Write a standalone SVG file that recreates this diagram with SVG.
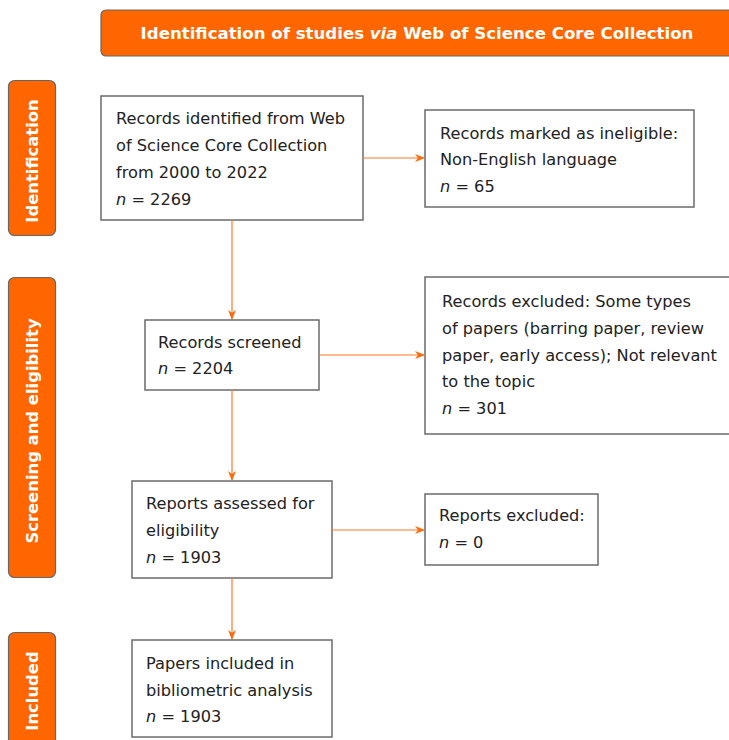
<svg xmlns="http://www.w3.org/2000/svg" width="729" height="740" viewBox="0 0 729 740">
<defs>
<marker id="ah" markerWidth="10" markerHeight="8" refX="9" refY="4" orient="auto" markerUnits="userSpaceOnUse">
<path d="M0,0 L10,4 L0,8 L3,4 Z" fill="#FF6A0D"/>
</marker>
<style>
.band{fill:#FF6600;stroke:#666;stroke-width:1.2}
.band-t{font-family:"DejaVu Sans",Verdana,sans-serif;font-weight:bold;fill:#fff;font-size:16.6px}
.side-t{font-family:"DejaVu Sans",Verdana,sans-serif;font-weight:bold;fill:#fff;font-size:16.4px}
.box{fill:#fff;stroke:#6b6b6b;stroke-width:1.5}
.t{font-family:"DejaVu Sans",Verdana,sans-serif;font-size:16.2px;fill:#222}
.conn{stroke:#FF7A26;stroke-width:1.2;fill:none;marker-end:url(#ah)}
</style>
</defs>
<rect width="729" height="740" fill="#fff"/>
<g id="banner">
<rect class="band" x="101" y="10" width="640" height="46" rx="5"/>
<text class="band-t" x="417" y="39" text-anchor="middle">Identification of studies <tspan font-style="italic">via</tspan> Web of Science Core Collection</text>
</g>
<g id="lab-identification">
<rect class="band" x="8.5" y="80.5" width="47" height="155" rx="6"/>
<text class="side-t" transform="translate(38,161) rotate(-90)" text-anchor="middle">Identification</text>
</g>
<g id="lab-screening">
<rect class="band" x="8.5" y="277.5" width="47" height="300" rx="6"/>
<text class="side-t" transform="translate(38,431) rotate(-90)" text-anchor="middle">Screening and eligibility</text>
</g>
<g id="lab-included">
<rect class="band" x="8.5" y="632.5" width="47" height="120" rx="6"/>
<text class="side-t" transform="translate(38,691) rotate(-90)" text-anchor="middle">Included</text>
</g>
<g id="n1">
<rect class="box" x="101" y="96" width="262" height="124"/>
<text class="t" x="116" y="124">Records identified from Web</text>
<text class="t" x="116" y="151">of Science Core Collection</text>
<text class="t" x="116" y="178">from 2000 to 2022</text>
<text class="t" x="116" y="205"><tspan font-style="italic">n</tspan> = 2269</text>
</g>
<g id="n2">
<rect class="box" x="425" y="110" width="269" height="97"/>
<text class="t" x="440" y="139">Records marked as ineligible:</text>
<text class="t" x="440" y="165">Non-English language</text>
<text class="t" x="440" y="192"><tspan font-style="italic">n</tspan> = 65</text>
</g>
<g id="n3">
<rect class="box" x="145" y="320" width="174" height="70"/>
<text class="t" x="158" y="348">Records screened</text>
<text class="t" x="158" y="374"><tspan font-style="italic">n</tspan> = 2204</text>
</g>
<g id="n4">
<rect class="box" x="425" y="277" width="320" height="157"/>
<text class="t" x="442" y="307">Records excluded: Some types</text>
<text class="t" x="442" y="334">of papers (barring paper, review</text>
<text class="t" x="442" y="361">paper, early access); Not relevant</text>
<text class="t" x="442" y="387">to the topic</text>
<text class="t" x="442" y="414"><tspan font-style="italic">n</tspan> = 301</text>
</g>
<g id="n5">
<rect class="box" x="132" y="481" width="200" height="97"/>
<text class="t" x="146" y="509">Reports assessed for</text>
<text class="t" x="146" y="536">eligibility</text>
<text class="t" x="146" y="563"><tspan font-style="italic">n</tspan> = 1903</text>
</g>
<g id="n6">
<rect class="box" x="425" y="494" width="173" height="71"/>
<text class="t" x="439" y="521">Reports excluded:</text>
<text class="t" x="439" y="548"><tspan font-style="italic">n</tspan> = 0</text>
</g>
<g id="n7">
<rect class="box" x="132" y="640" width="200" height="97"/>
<text class="t" x="146" y="669">Papers included in</text>
<text class="t" x="146" y="696">bibliometric analysis</text>
<text class="t" x="146" y="722"><tspan font-style="italic">n</tspan> = 1903</text>
</g>
<g id="connectors">
<line class="conn" x1="363" y1="158" x2="424" y2="158"/>
<line class="conn" x1="232" y1="220" x2="232" y2="319"/>
<line class="conn" x1="319" y1="355" x2="424" y2="355"/>
<line class="conn" x1="232" y1="390" x2="232" y2="480"/>
<line class="conn" x1="332" y1="530" x2="424" y2="530"/>
<line class="conn" x1="232" y1="578" x2="232" y2="639"/>
</g>
</svg>
